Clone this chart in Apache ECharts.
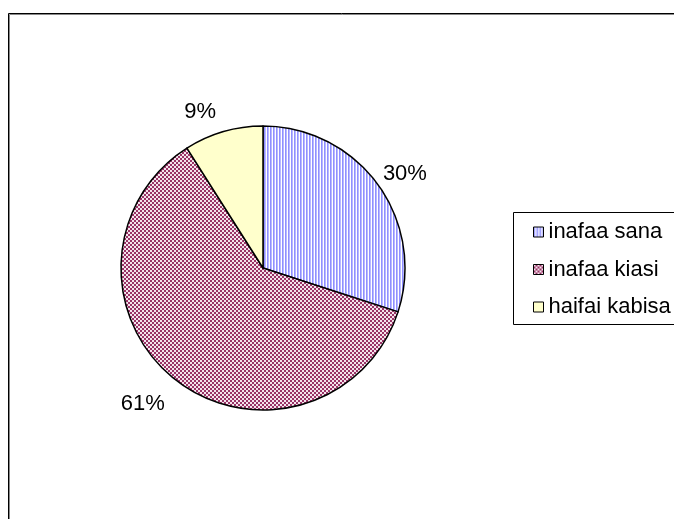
<!DOCTYPE html>
<html>
<head>
<meta charset="utf-8">
<script src="https://cdn.jsdelivr.net/npm/echarts@6/dist/echarts.min.js"></script>
<style>
html,body{margin:0;padding:0;background:#fff;}
#chart{width:674px;height:519px;}
</style>
</head>
<body>
<div id="chart"></div>
<script>
var categories = ['inafaa sana', 'inafaa kiasi', 'haifai kabisa'];
var values = [30, 61, 9];

function stripePattern() {
  var c = document.createElement('canvas');
  c.width = 3; c.height = 1;
  var g = c.getContext('2d');
  g.fillStyle = '#8f8fff'; g.fillRect(0, 0, 1, 1);
  g.fillStyle = '#b8b8ff'; g.fillRect(1, 0, 1, 1);
  g.fillStyle = '#ffffff'; g.fillRect(2, 0, 1, 1);
  return c;
}
function checkerPattern() {
  var c = document.createElement('canvas');
  c.width = 4; c.height = 4;
  var g = c.getContext('2d');
  for (var y = 0; y < 4; y++) {
    for (var x = 0; x < 4; x++) {
      var light = (((x >> 1) + (y >> 1)) % 2) === 0;
      g.fillStyle = light ? '#f4e4ec' : '#993366';
      g.fillRect(x, y, 1, 1);
    }
  }
  return c;
}
var fills = [
  { image: stripePattern(), repeat: 'repeat' },
  { image: checkerPattern(), repeat: 'repeat' },
  '#ffffcc'
];
var labelShiftY = [-11, 16, -12];
var labelLen = [0, 10, 8];

var data = categories.map(function (n, i) {
  return {
    name: n,
    value: values[i],
    itemStyle: { color: fills[i] },
    labelLine: { length: labelLen[i] }
  };
});

var FONT = 'Liberation Sans, Arial, sans-serif';
var chart = echarts.init(document.getElementById('chart'), null, { renderer: 'canvas' });
chart.setOption({
  animation: false,
  backgroundColor: '#ffffff',
  graphic: [
    { type: 'rect', shape: { x: 9.5, y: 14.5, width: 700, height: 600 }, style: { fill: 'none', stroke: '#888888', lineWidth: 1 }, z: 0 },
    { type: 'rect', shape: { x: 8.5, y: 13.5, width: 700, height: 600 }, style: { fill: 'none', stroke: '#000000', lineWidth: 1 }, z: 1 },
    { type: 'rect', shape: { x: 513.5, y: 212.5, width: 200, height: 112 }, style: { fill: '#ffffff', stroke: '#000000', lineWidth: 1 }, z: 2 }
  ],
  legend: {
    orient: 'vertical',
    left: 533,
    top: 220,
    padding: 0,
    itemWidth: 10,
    itemHeight: 10,
    itemGap: 13.5,
    icon: 'rect',
    z: 10,
    itemStyle: { borderColor: '#000000', borderWidth: 1 },
    textStyle: { fontFamily: FONT, fontSize: 22, color: '#000', lineHeight: 24 },
    data: categories
  },
  series: [{
    type: 'pie',
    center: [263, 268],
    radius: 142,
    startAngle: 90,
    clockwise: true,
    avoidLabelOverlap: false,
    itemStyle: { borderColor: '#000000', borderWidth: 1.5 },
    label: {
      show: true,
      position: 'outside',
      formatter: '{d}%',
      fontFamily: FONT,
      fontSize: 22,
      color: '#000'
    },
    labelLine: { show: false, length: 8, length2: 0 },
    labelLayout: function (params) {
      return { dy: labelShiftY[params.dataIndex] };
    },
    emphasis: { disabled: true },
    data: data
  }]
});
</script>
</body>
</html>
